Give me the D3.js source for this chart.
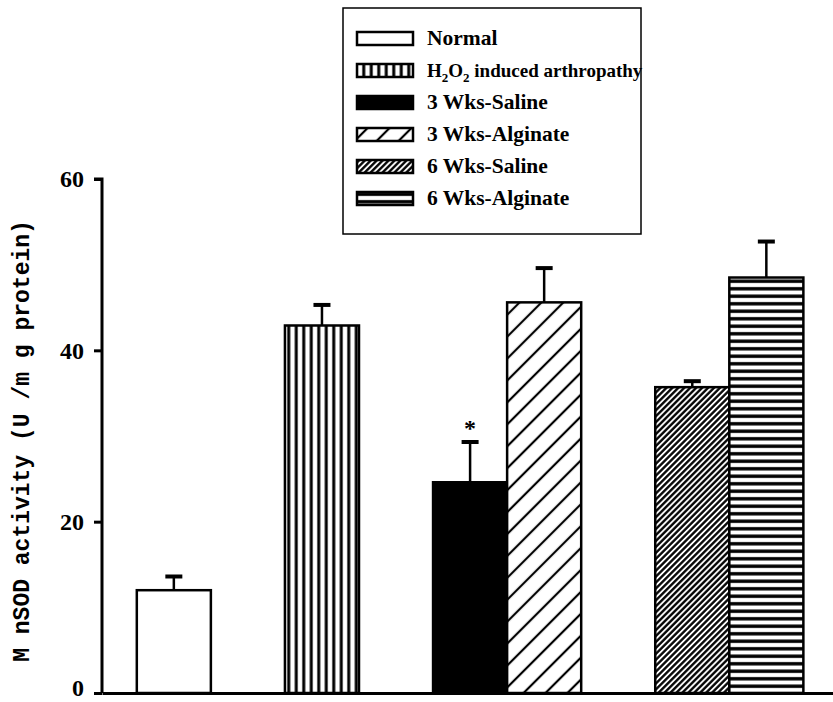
<!DOCTYPE html>
<html>
<head>
<meta charset="utf-8">
<script src="https://cdn.jsdelivr.net/npm/d3@7"></script>
<style>
  html, body { margin: 0; padding: 0; background: #fff; }
  svg { display: block; }
</style>
</head>
<body>
<svg id="chart" width="833" height="702"></svg>
<script>
// ---- data ----
const categories = ["Normal", "H2O2 induced arthropathy", "3 Wks-Saline", "3 Wks-Alginate", "6 Wks-Saline", "6 Wks-Alginate"];
const means = [12.0, 42.9, 24.6, 45.6, 35.7, 48.5];
const errors = [1.6, 2.4, 4.7, 4.0, 0.7, 4.2];
const marks = ["", "", "*", "", "", ""];
const yTicks = [0, 20, 40, 60];
const yLabel = "M nSOD activity (U /m g protein)";

// ---- layout ----
const svg = d3.select("#chart");
const slotIndex = [0, 2, 4, 5, 7, 8];
const fills = ["#fff", "url(#pVert)", "#000", "url(#pDiag)", "url(#pDense)", "url(#pHoriz)"];

const x = d3.scaleLinear().domain([-0.47, 9.4]).range([102, 833]);
const y = d3.scaleLinear().domain([0, 60]).range([693, 179]);

// ---- patterns ----
const defs = svg.append("defs");
function linePattern(id, size, lw, angle) {
  const p = defs.append("pattern").attr("id", id)
    .attr("patternUnits", "userSpaceOnUse")
    .attr("width", size).attr("height", size);
  if (angle) p.attr("patternTransform", `rotate(${angle})`);
  p.append("rect").attr("width", size).attr("height", size).attr("fill", "#fff");
  p.append("line").attr("x1", size / 2).attr("x2", size / 2).attr("y1", 0).attr("y2", size)
    .attr("stroke", "#000").attr("stroke-width", lw);
}
linePattern("pVert", 7.5, 3, 0);
linePattern("pDiag", 15.5, 2.2, 45);
linePattern("pDense", 4.2, 2.3, 45);
linePattern("pHoriz", 7.5, 3.4, 90);

// ---- axes ----
const yAxis = d3.axisLeft(y).tickValues(yTicks).tickSize(8).tickPadding(10).tickFormat(d3.format("d"));
const gy = svg.append("g").attr("transform", `translate(${x.range()[0]},0)`).call(yAxis);
gy.select(".domain").attr("stroke-width", 3).attr("d", `M-8,${y(60)}H0V${y(0)}`);
gy.selectAll(".tick line").attr("stroke-width", 3);
gy.selectAll(".tick text")
  .attr("font-family", "'Liberation Serif', 'Times New Roman', serif")
  .attr("font-weight", "bold").attr("font-size", 24).attr("fill", "#000")
  .attr("dy", d => d === 0 ? "0.1em" : "0.32em");

// x axis line
const xAxis = d3.axisBottom(x).tickValues([]).tickSizeOuter(0);
const gx = svg.append("g").attr("transform", `translate(0,${y(0)})`).call(xAxis);
gx.select(".domain").attr("stroke-width", 3);

// ---- bars ----
const data = categories.map((c, i) => ({ c, i, v: means[i], e: errors[i], m: marks[i] }));
const bw = x(1) - x(0);
svg.append("g").selectAll("rect").data(data).join("rect")
  .attr("x", d => x(slotIndex[d.i]))
  .attr("y", d => y(d.v))
  .attr("width", bw)
  .attr("height", d => y(0) - y(d.v))
  .attr("fill", d => fills[d.i])
  .attr("stroke", "#000").attr("stroke-width", 2.5);

// error bars
const eg = svg.append("g").attr("stroke", "#000");
eg.selectAll("line.v").data(data).join("line").attr("class", "v")
  .attr("x1", d => x(slotIndex[d.i]) + bw / 2).attr("x2", d => x(slotIndex[d.i]) + bw / 2)
  .attr("y1", d => y(d.v)).attr("y2", d => y(d.v + d.e)).attr("stroke-width", 2.5);
eg.selectAll("line.cap").data(data).join("line").attr("class", "cap")
  .attr("x1", d => x(slotIndex[d.i]) + bw / 2 - 8.5).attr("x2", d => x(slotIndex[d.i]) + bw / 2 + 8.5)
  .attr("y1", d => y(d.v + d.e)).attr("y2", d => y(d.v + d.e)).attr("stroke-width", 4);

// significance marks
svg.append("g").selectAll("text").data(data.filter(d => d.m)).join("text")
  .attr("x", d => x(slotIndex[d.i]) + bw / 2)
  .attr("y", d => y(d.v + d.e) - 6)
  .attr("text-anchor", "middle")
  .attr("font-family", "'Liberation Serif', serif").attr("font-weight", "bold").attr("font-size", 24)
  .text(d => d.m);

// y label
svg.append("text")
  .attr("transform", `translate(29,${(y(0) + y(60)) / 2 + 5}) rotate(-90)`)
  .attr("text-anchor", "middle")
  .attr("font-family", "'Liberation Mono', 'Courier New', monospace")
  .attr("font-weight", "bold").attr("font-size", 23)
  .text(yLabel);

// ---- legend ----
const lg = svg.append("g");
lg.append("rect").attr("x", 343).attr("y", 8).attr("width", 298).attr("height", 226)
  .attr("fill", "#fff").attr("stroke", "#000").attr("stroke-width", 1.5);
const rows = lg.selectAll("g.row").data(data).join("g").attr("class", "row")
  .attr("transform", d => `translate(0,${38 + d.i * 32})`);
rows.append("rect").attr("x", 357).attr("y", -6).attr("width", 56).attr("height", 13)
  .attr("fill", d => fills[d.i]).attr("stroke", "#000").attr("stroke-width", 2.5);
const txt = rows.append("text").attr("x", 427).attr("y", 7)
  .attr("font-family", "'Liberation Serif', 'Times New Roman', serif")
  .attr("font-weight", "bold").attr("font-size", 21.5).attr("fill", "#000");
txt.each(function (d) {
  const t = d3.select(this);
  if (d.c.startsWith("H2O2")) {
    t.attr("font-size", 19);
    t.append("tspan").text("H");
    t.append("tspan").attr("font-size", 13).attr("dy", 5).text("2");
    t.append("tspan").attr("dy", -5).text("O");
    t.append("tspan").attr("font-size", 13).attr("dy", 5).text("2");
    t.append("tspan").attr("dy", -5).text(" induced arthropathy");
  } else {
    t.text(d.c);
  }
});
</script>
</body>
</html>
